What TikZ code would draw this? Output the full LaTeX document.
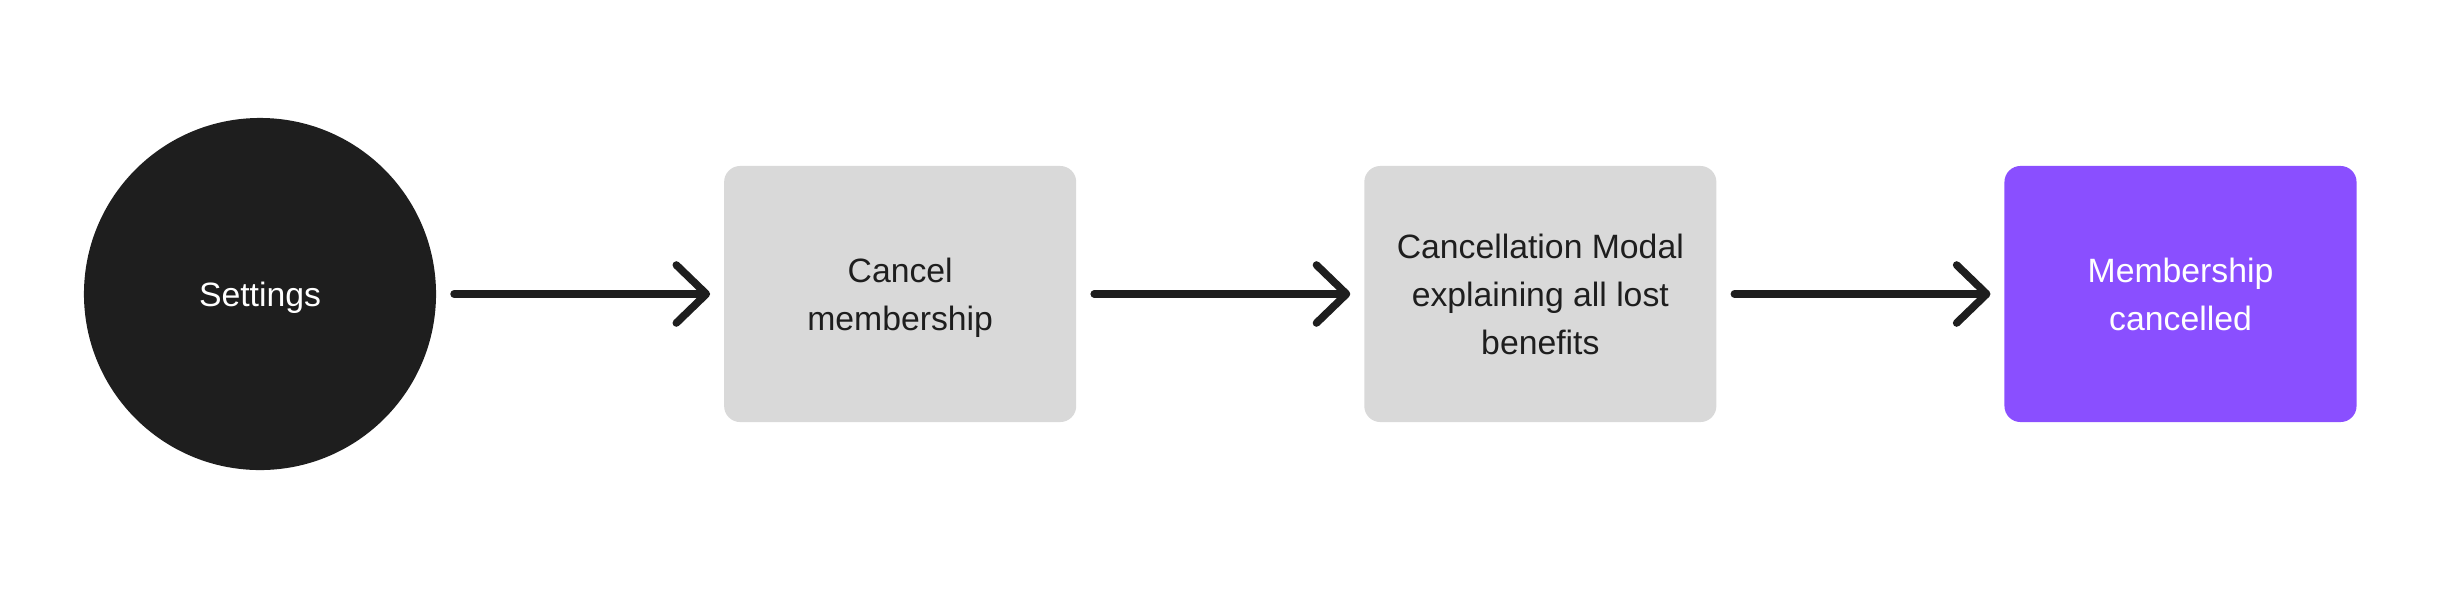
\documentclass[tikz,border=0pt]{standalone}
\usepackage{fontspec}
\setmainfont{Liberation Sans}
\usetikzlibrary{arrows.meta,positioning}
\definecolor{ink}{HTML}{1E1E1E}
\definecolor{card}{HTML}{D9D9D9}
\definecolor{accent}{HTML}{8A4FFF}

\begin{document}
\begin{tikzpicture}[x=0.025cm,y=-0.025cm,line width=5.4pt,every node/.style={font=\fontsize{24}{34}\selectfont,text=ink,align=center,outer sep=0pt,text depth=0pt},screen/.style={fill=card,rounded corners=0.4cm,minimum width=8.8cm,minimum height=6.4cm,inner sep=0pt},flow/.style={-{Straight Barb[length=0.75cm,width=1.45cm,round]},ink,line cap=round,shorten <=0.45cm,shorten >=0.35cm}]
\path[use as bounding box] (0,0) rectangle (2440,588);

\node[circle,fill=ink,text=white,minimum size=8.8cm] (settings) at (260,294) {Settings};
\node[screen,right=7.2cm of settings] (cancel) {Cancel\\membership};
\node[screen,right=7.2cm of cancel] (modal) {Cancellation Modal\\explaining all lost\\benefits};
\node[screen,fill=accent,text=white,right=7.2cm of modal] (done) {Membership\\cancelled};

\draw[flow] (settings) -- (cancel);
\draw[flow] (cancel) -- (modal);
\draw[flow] (modal) -- (done);

\end{tikzpicture}
\end{document}
